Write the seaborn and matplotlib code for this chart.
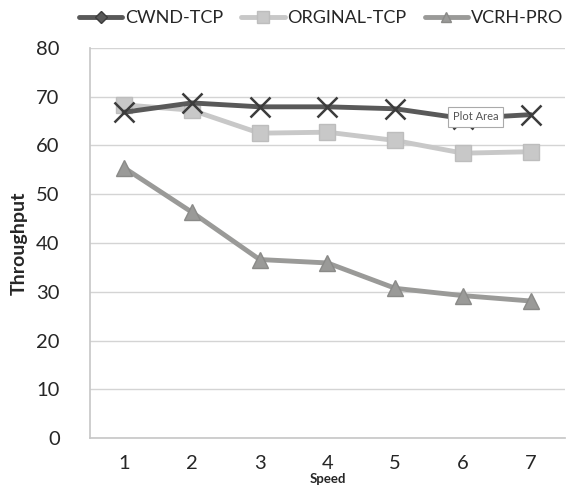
import matplotlib
matplotlib.use("Agg")
import matplotlib.pyplot as plt
from matplotlib.lines import Line2D
import seaborn as sns
import pandas as pd

speed = [1, 2, 3, 4, 5, 6, 7]
cwnd_tcp = [66.8, 68.7, 67.9, 67.9, 67.5, 65.5, 66.3]
orginal_tcp = [68.3, 67.2, 62.5, 62.7, 61.0, 58.4, 58.7]
vcrh_pro = [55.4, 46.3, 36.6, 35.9, 30.7, 29.2, 28.1]
series_names = ["CWND-TCP", "ORGINAL-TCP", "VCRH-PRO"]
y_ticks = [0, 10, 20, 30, 40, 50, 60, 70, 80]

sns.set_theme(style="white")
plt.rcParams["font.family"] = ["Lato", "DejaVu Sans"]

df = pd.DataFrame({
    "Speed": speed * 3,
    "Throughput": cwnd_tcp + orginal_tcp + vcrh_pro,
    "Series": [series_names[0]] * 7 + [series_names[1]] * 7 + [series_names[2]] * 7,
})

fig = plt.figure(figsize=(5.71, 5.03), dpi=100)
ax = fig.add_axes([0.158, 0.129, 0.831, 0.776])

colors = {"CWND-TCP": "#595959", "ORGINAL-TCP": "#c8c8c8", "VCRH-PRO": "#9a9a98"}
markers = {"CWND-TCP": "x", "ORGINAL-TCP": "s", "VCRH-PRO": "^"}
msizes = {"CWND-TCP": 15, "ORGINAL-TCP": 12, "VCRH-PRO": 12}
mecs = {"CWND-TCP": "#3c3c3c", "ORGINAL-TCP": "#bdbdbd", "VCRH-PRO": "#8a8a88"}
zorders = {"CWND-TCP": 4, "ORGINAL-TCP": 3, "VCRH-PRO": 3}

for name in ["ORGINAL-TCP", "VCRH-PRO", "CWND-TCP"]:
    sub = df[df["Series"] == name]
    sns.lineplot(data=sub, x="Speed", y="Throughput", ax=ax, color=colors[name],
                 linewidth=3.5, marker=markers[name], markersize=msizes[name],
                 markeredgecolor=mecs[name], markeredgewidth=1.8 if name == "CWND-TCP" else 1,
                 zorder=zorders[name], legend=False)

ax.set_xlim(0.5, 7.5)
ax.set_ylim(0, 80)
ax.set_xticks(speed)
ax.set_yticks(y_ticks)
ax.tick_params(axis="both", labelsize=14.5, length=0, pad=12)
ax.tick_params(axis="y", pad=22)
ax.yaxis.grid(True, color="#d4d4d4", linewidth=1)
ax.xaxis.grid(False)
for s in ["top", "right"]:
    ax.spines[s].set_visible(False)
ax.spines["left"].set_color("#c8c8c8")
ax.spines["bottom"].set_color("#c8c8c8")
ax.set_xlabel("Speed", fontsize=9.5, fontweight="bold", labelpad=1)
ax.set_ylabel("Throughput", fontsize=14, fontweight="bold", labelpad=6)

ax.text(5.85, 65.9, "Plot Area", fontsize=8, color="#555555", va="center", ha="left",
        bbox=dict(boxstyle="square,pad=0.4", facecolor="white", edgecolor="#aaaaaa", linewidth=0.8),
        zorder=6)

handles = [
    Line2D([], [], color=colors["CWND-TCP"], lw=3.5, marker="D", markersize=6, markeredgecolor=mecs["CWND-TCP"]),
    Line2D([], [], color=colors["ORGINAL-TCP"], lw=3.5, marker="s", markersize=8, markeredgecolor=mecs["ORGINAL-TCP"]),
    Line2D([], [], color=colors["VCRH-PRO"], lw=3.5, marker="^", markersize=7, markeredgecolor=mecs["VCRH-PRO"]),
]
fig.legend(handles, series_names, loc="upper left", bbox_to_anchor=(0.11, 1.012), ncol=3,
           frameon=False, fontsize=13, handlelength=2.4, handletextpad=0.15, columnspacing=1.0)

fig.savefig("out.png", dpi=100)
